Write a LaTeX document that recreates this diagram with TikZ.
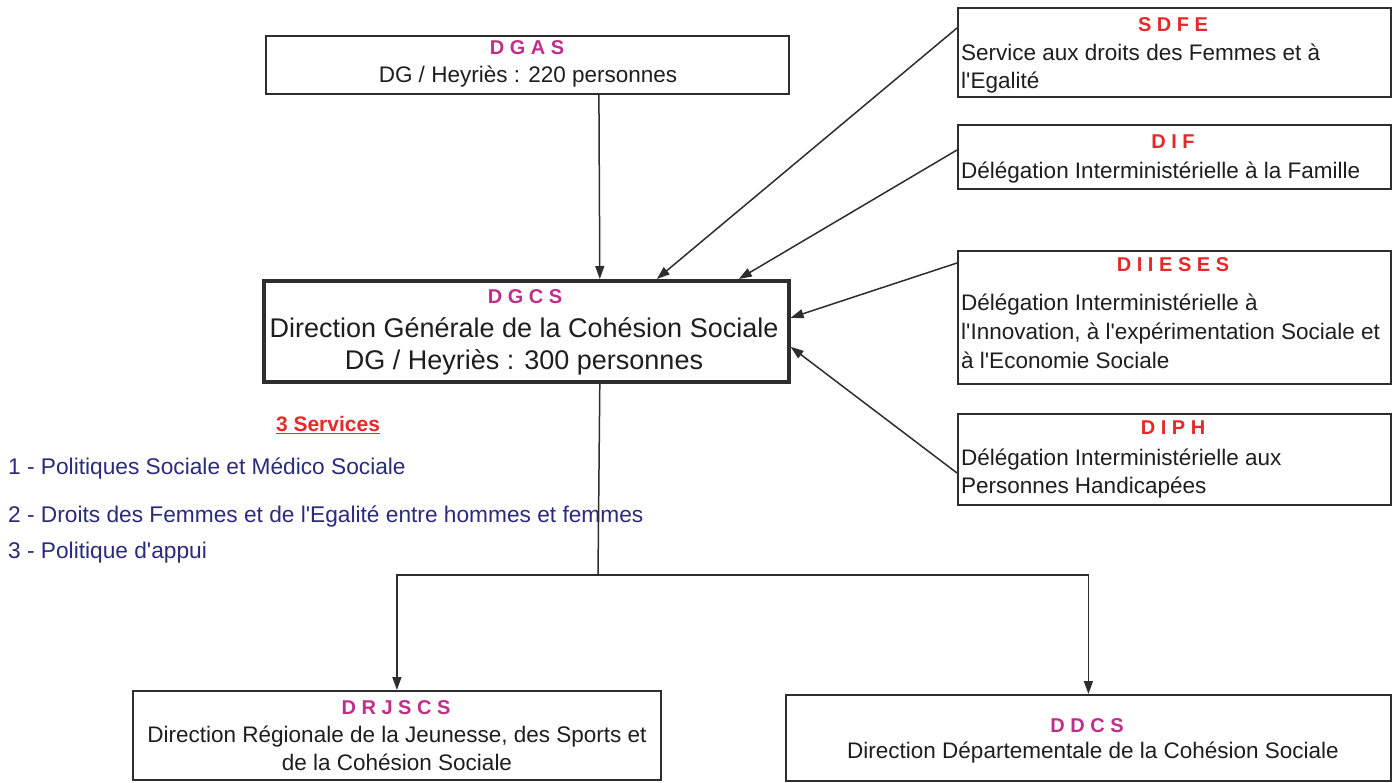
\documentclass[tikz,border=0pt]{standalone}
\usepackage{fontspec}
\setmainfont{Liberation Sans}
\usetikzlibrary{arrows.meta}
\definecolor{hdrmag}{HTML}{C02E8C}
\definecolor{hdrred}{HTML}{E42A2A}
\definecolor{navyblue}{HTML}{2A2B7C}
\definecolor{ink}{HTML}{1E1E1E}
\definecolor{edgegray}{HTML}{2E2E2E}
\newcommand{\aq}{\textquotesingle}
\begin{document}
\begin{tikzpicture}[x=1pt,y=-1pt,
 box/.style={draw=edgegray, line width=1.8pt, anchor=north west, inner sep=0pt},
 hdr/.style={font=\fontsize{20}{24}\selectfont\bfseries, inner sep=0pt},
 maghdr/.style={hdr,text=hdrmag},
 redhdr/.style={hdr,text=hdrred},
 body/.style={font=\fontsize{22.5}{28}\selectfont, text=ink, inner sep=0pt},
 lbody/.style={body, anchor=west, align=left},
 cbody/.style={body, align=center},
 listitem/.style={font=\fontsize{22.7}{27}\selectfont, text=navyblue, anchor=west, inner sep=0pt},
 arr/.style={draw=edgegray, line width=1.5pt, -{Triangle[length=13pt,width=9pt]}},
 link/.style={draw=edgegray, line width=1.5pt}]

\useasboundingbox[fill=white] (0,0) rectangle (1395,782);

% boxes
\node[box, minimum width=523pt, minimum height=58pt] (dgas) at (265,35) {};
\node[box, line width=3.6pt, minimum width=525pt, minimum height=101pt] (dgcs) at (262,279) {};
\node[box, minimum width=433pt, minimum height=89pt] (sdfe) at (957,7) {};
\node[box, minimum width=433pt, minimum height=64pt] (dif) at (957,124) {};
\node[box, minimum width=433pt, minimum height=133pt] (diieses) at (957,250) {};
\node[box, minimum width=433pt, minimum height=91pt] (diph) at (957,413) {};
\node[box, minimum width=528pt, minimum height=89pt] (drjscs) at (132,690) {};
\node[box, minimum width=605pt, minimum height=86pt] (ddcs) at (785,694) {};

% texts
\node[maghdr] (dgash) at (527,48) {D G A S};
\node[cbody] (dgasb) at (528,77) {DG / Heyriès : 220 personnes};
\node[maghdr] (dgcsh) at (525,297) {D G C S};
\node[body, font=\fontsize{27}{32}\selectfont, align=center] (dgcsb) at (524,346) {Direction Générale de la Cohésion Sociale\\DG / Heyriès : 300 personnes};

\node[redhdr] (sdfeh) at (1173,25) {S D F E};
\node[lbody] (sdfeb) at (961,68.5) {Service aux droits des Femmes et à\\l\aq Egalité};
\node[redhdr] (difh) at (1173,142) {D I F};
\node[lbody] (difb) at (961,173) {Délégation Interministérielle à la Famille};
\node[redhdr] (diiesesh) at (1173,265) {D I I E S E S};
\node[lbody, font=\fontsize{22.5}{29}\selectfont] (diiesesb) at (961,331) {Délégation Interministérielle à\\l\aq Innovation, à l\aq expérimentation Sociale et\\à l\aq Economie Sociale};
\node[redhdr] (diphh) at (1173,428) {D I P H};
\node[lbody] (diphb) at (961,474) {Délégation Interministérielle aux\\Personnes Handicapées};

\node[maghdr] (drjscsh) at (396,708) {D R J S C S};
\node[cbody] (drjscsb) at (397,748) {Direction Régionale de la Jeunesse, des Sports et\\de la Cohésion Sociale};
\node[maghdr] (ddcsh) at (1087,726) {D D C S};
\node[cbody] (ddcsb) at (1093,753) {Direction Départementale de la Cohésion Sociale};

\node[font=\fontsize{21}{24}\selectfont\bfseries, text=hdrred, inner sep=0pt] (serv) at (328,425) {\underline{3 Services}};
\node[listitem] (s1) at (8,468) {1 - Politiques Sociale et Médico Sociale};
\node[listitem] (s2) at (8,516) {2 - Droits des Femmes et de l\aq Egalité entre hommes et femmes};
\node[listitem] (s3) at (8,553) {3 - Politique d\aq appui};

% connectors
\draw[arr] ([xshift=71.5pt]dgas.south) -- ([xshift=73.5pt]dgcs.north);
\draw[arr] ([yshift=-21pt]sdfe.north west) -- ([xshift=130.5pt]dgcs.north);
\draw[arr] ([yshift=-26pt]dif.north west) -- ([xshift=212.5pt]dgcs.north);
\draw[arr] ([yshift=-13pt]diieses.north west) -- ([yshift=13.5pt]dgcs.east);
\draw[arr] ([yshift=-60pt]diph.north west) -- ([yshift=-15.5pt]dgcs.east);

\coordinate (split) at (598,575);
\draw[link] ([xshift=73.5pt]dgcs.south) -- (split);
\draw[arr] (split) -| (drjscs.north);
\draw[arr] (split) -| (ddcs.north);
\end{tikzpicture}
\end{document}
